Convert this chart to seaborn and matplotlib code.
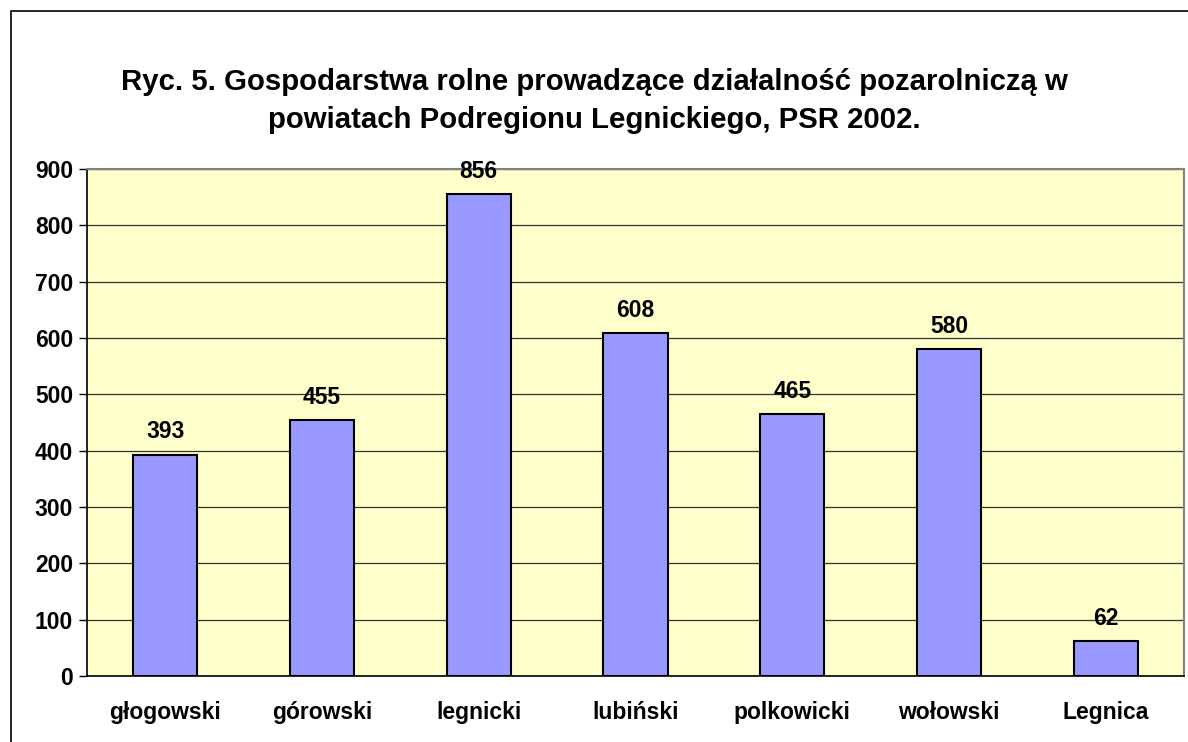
import matplotlib
matplotlib.use("Agg")
import matplotlib.pyplot as plt
import seaborn as sns
import pandas as pd
from matplotlib.patches import Rectangle
from matplotlib.ticker import FixedLocator

categories = ["głogowski", "górowski", "legnicki", "lubiński", "polkowicki", "wołowski", "Legnica"]
values = [393, 455, 856, 608, 465, 580, 62]
yticks = [0, 100, 200, 300, 400, 500, 600, 700, 800, 900]
title = "Ryc. 5. Gospodarstwa rolne prowadzące działalność pozarolniczą w\npowiatach Podregionu Legnickiego, PSR 2002."

sns.set_style("white")
plt.rcParams['font.family'] = ['Liberation Sans', 'DejaVu Sans']
plt.rcParams['text.color'] = 'black'
plt.rcParams['xtick.color'] = 'black'
plt.rcParams['ytick.color'] = 'black'
plt.rcParams['axes.labelcolor'] = 'black'

df = pd.DataFrame({"cat": categories, "val": values})

fig = plt.figure(figsize=(11.88, 7.42), dpi=100)
fig.patch.set_facecolor("white")
ax = fig.add_axes([87/1188, 1 - 676/742, (1184-87)/1188, (676-169)/742])
ax.set_facecolor("#FFFFCC")

sns.barplot(data=df, x="cat", y="val", ax=ax, color="#9999FF", width=0.41,
            edgecolor="black", linewidth=1.5, saturation=1, zorder=3)

ax.set_xlim(-0.5, len(categories) - 0.5)
ax.set_ylim(0, 900)
ax.yaxis.set_major_locator(FixedLocator(yticks))
ax.set_yticklabels([str(t) for t in yticks], fontsize=16.5, fontweight="bold")
ax.grid(axis="y", color="#333333", linewidth=0.9, zorder=0)
ax.set_axisbelow(True)

ax.set_xticks([i for i in range(len(categories))])
ax.set_xticklabels(categories, fontsize=16.5, fontweight="bold")
ax.tick_params(axis="x", length=0, pad=18)
ax.set_xticks([i - 0.5 for i in range(len(categories) + 1)], minor=True)
ax.tick_params(axis="x", which="minor", length=6, width=1, color="black", direction="out")
ax.tick_params(axis="y", length=6, width=1, color="black", direction="out", pad=4, left=True)

ax.set_xlabel("")
ax.set_ylabel("")

for s in ["left", "bottom"]:
    ax.spines[s].set_color("black")
    ax.spines[s].set_linewidth(1.2)
ax.spines["top"].set_color("#808080")
ax.spines["top"].set_linewidth(1.5)
ax.spines["right"].set_color("#808080")
ax.spines["right"].set_linewidth(1.5)

for i, v in enumerate(values):
    ax.annotate(str(v), (i, v), xytext=(0, 8), textcoords="offset points",
                ha="center", va="bottom", fontsize=16.5, fontweight="bold")

fig.text(0.5, 1 - 101/742, title, ha="center", va="center", fontsize=21.2,
         fontweight="bold", linespacing=1.5)

fig.patches.append(Rectangle((11/1188, -0.1), 1.2, 1 - 11/742 + 0.1, transform=fig.transFigure,
                             fill=False, edgecolor="black", linewidth=1.2))

fig.savefig("out.png", dpi=100)
